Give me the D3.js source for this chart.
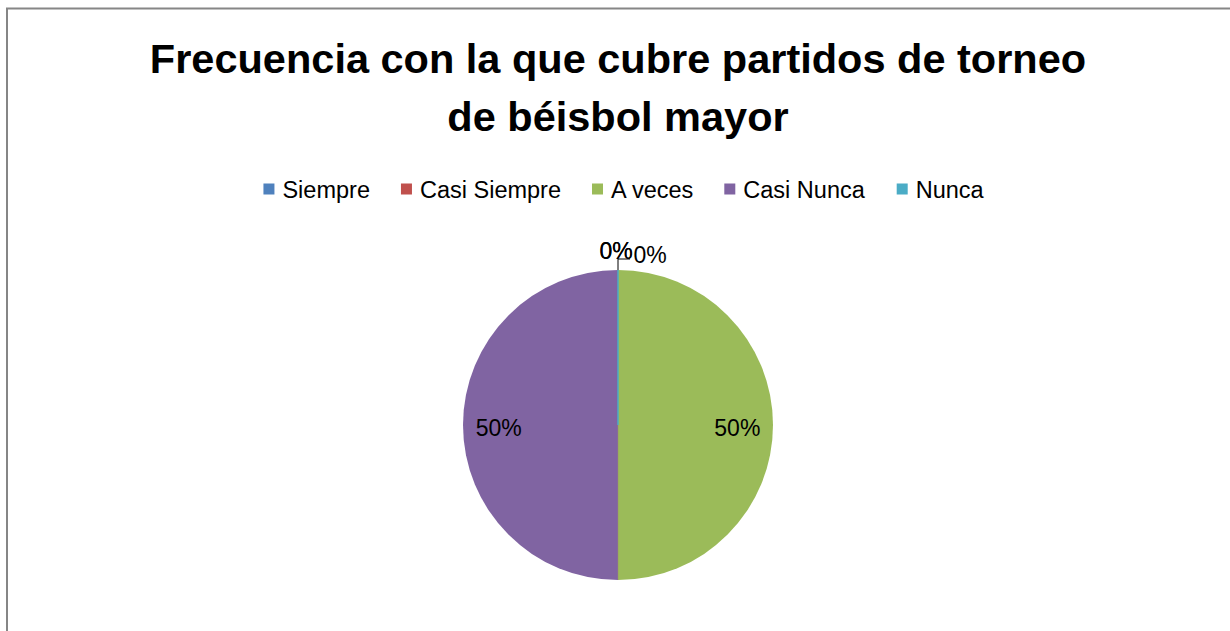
<!DOCTYPE html>
<meta charset="utf-8" />
<script src="https://d3js.org/d3.v7.js"></script>
<style>
  body { margin: 0; background: #fff; }
  text { font-family: "Liberation Sans", Arial, sans-serif; }
</style>
<div id="chart"></div>
<script>
  // data
  const categories = ["Siempre", "Casi Siempre", "A veces", "Casi Nunca", "Nunca"];
  const values = [0, 0, 50, 50, 0];
  const colors = ["#4F81BD", "#C0504D", "#9BBB59", "#8064A2", "#4BACC6"];
  const titleLines = ["Frecuencia con la que cubre partidos de torneo", "de béisbol mayor"];

  const width = 1230, height = 631;
  const cx = 618, cy = 425, radius = 155;

  const svg = d3.select("#chart").append("svg")
    .attr("width", width)
    .attr("height", height);

  // chart border (runs off right/bottom)
  svg.append("rect")
    .attr("x", 7).attr("y", 8.5)
    .attr("width", width + 20).attr("height", height + 20)
    .attr("fill", "white")
    .attr("stroke", "#868686")
    .attr("stroke-width", 2);

  // title
  svg.append("text")
    .attr("text-anchor", "middle")
    .attr("font-weight", "bold")
    .attr("font-size", 41.5)
    .attr("fill", "#000")
    .selectAll("tspan")
    .data(titleLines)
    .join("tspan")
    .attr("x", 618)
    .attr("y", (d, i) => 73 + i * 58)
    .text(d => d);

  // legend
  const legend = svg.append("g");
  const items = legend.selectAll("g").data(categories).join("g");
  items.append("rect")
    .attr("width", 11).attr("height", 11)
    .attr("y", 183.5)
    .attr("fill", (d, i) => colors[i]);
  items.append("text")
    .attr("x", 19).attr("y", 197.5)
    .attr("font-size", 23.5)
    .attr("fill", "#000")
    .text(d => d);
  let xpos = 0;
  const gap = 31;
  items.each(function () {
    const w = this.getBBox().width;
    d3.select(this).attr("transform", `translate(${xpos},0)`);
    xpos += w + gap;
  });
  const legendW = xpos - gap;
  legend.attr("transform", `translate(${624 - legendW / 2},0)`);

  // pie
  const pie = d3.pie().sort(null).value(d => d)(values);
  const arc = d3.arc().innerRadius(0).outerRadius(radius);
  const g = svg.append("g").attr("transform", `translate(${cx},${cy})`);

  g.selectAll("path.slice")
    .data(pie)
    .join("path")
    .attr("class", "slice")
    .attr("d", arc)
    .attr("fill", (d, i) => colors[i]);

  // zero-width "Nunca" slice shows as a thin line at the top
  const nunca = pie[4];
  const ang = nunca.startAngle - Math.PI / 2;
  g.append("line")
    .attr("x1", 0).attr("y1", 0)
    .attr("x2", radius * Math.cos(ang)).attr("y2", radius * Math.sin(ang))
    .attr("stroke", colors[4])
    .attr("stroke-width", 1.5);
  g.append("line")
    .attr("x1", 0).attr("y1", 0)
    .attr("x2", 0).attr("y2", radius)
    .attr("stroke", "#a08a70")
    .attr("stroke-width", 1)
    .attr("opacity", 0.5);

  // labels
  const total = d3.sum(values);
  const inner = d3.arc().innerRadius(radius * 0.77).outerRadius(radius * 0.77);
  const fmt = v => Math.round(v / total * 100) + "%";

  pie.forEach((d, i) => {
    if (d.value > 0) {
      const c = inner.centroid(d);
      g.append("text")
        .attr("x", c[0]).attr("y", c[1] + 11)
        .attr("text-anchor", "middle")
        .attr("font-size", 23)
        .text(fmt(d.value));
    }
  });

  // zero labels at top: Siempre and Nunca overlap left, Casi Siempre right
  const topY = -radius;
  [0, 4].forEach(i => {
    g.append("text")
      .attr("x", -2).attr("y", topY - 11)
      .attr("text-anchor", "middle")
      .attr("font-size", 23)
      .text(fmt(values[i]));
  });
  g.append("text")
    .attr("x", 32).attr("y", topY - 7)
    .attr("text-anchor", "middle")
    .attr("font-size", 23)
    .text(fmt(values[1]));
  g.append("path")
    .attr("d", `M0,${topY} V${topY - 11} H12`)
    .attr("fill", "none")
    .attr("stroke", "#000")
    .attr("stroke-width", 1);
</script>
